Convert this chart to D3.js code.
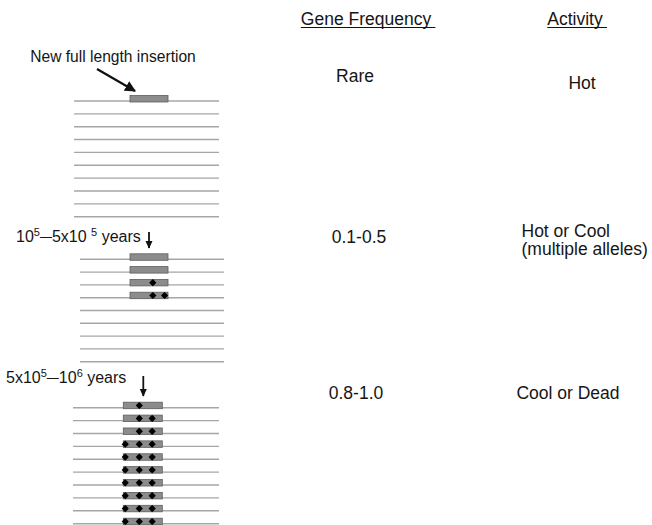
<!DOCTYPE html>
<html><head><meta charset="utf-8">
<script src="https://cdn.jsdelivr.net/npm/d3@7"></script>
<style>body{margin:0;background:#fff}svg{display:block}text{font-family:"Liberation Sans",Arial,sans-serif;fill:#151515}</style>
</head><body><svg id="c" width="652" height="525"></svg>
<script>
// ---- data ----
const stages = ["New full length insertion", "10^5-5x10 ^5 years", "5x10^5-10^6 years"];
const chromosomeCounts = [10, 9, 10];           // homologous chromosomes drawn per stage
const insertionMutations = [                     // per carrying chromosome: mutation positions along the element (0-1)
  [[]],
  [[], [], [0.6], [0.6, 0.91]],
  [[0.41], [0.41, 0.74], [0.41, 0.74], [0.05, 0.41, 0.74], [0.05, 0.41, 0.74], [0.05, 0.41, 0.74],
   [0.05, 0.41, 0.74], [0.05, 0.41, 0.74], [0.05, 0.41, 0.74], [0.05, 0.41, 0.74]]
];
const geneFrequency = ["Rare", "0.1-0.5", "0.8-1.0"];
const activity = [["Hot"], ["Hot or Cool", "(multiple alleles)"], ["Cool or Dead"]];
const columnHeaders = ["Gene Frequency", "Activity"];

// ---- layout ----
const panels = [
  {lx: [74, 219], ly: [101, 216.7], bx: [130, 168]},
  {lx: [80, 224], ly: [259.3, 361.7], bx: [130, 168]},
  {lx: [73, 219], ly: [407.7, 523.7], bx: [123.3, 162.3]}
];
const svg = d3.select("#c");
const defs = svg.append("defs");
defs.append("marker").attr("id","ah").attr("viewBox","0 0 10 10").attr("refX",9).attr("refY",5)
  .attr("markerWidth",5).attr("markerHeight",5).attr("orient","auto")
  .append("path").attr("d","M0,0 L10,5 L0,10 z").attr("fill","#111");
defs.append("marker").attr("id","ah2").attr("viewBox","0 0 10 10").attr("refX",9).attr("refY",5)
  .attr("markerWidth",4.5).attr("markerHeight",5).attr("orient","auto")
  .append("path").attr("d","M0,0.5 L10,5 L0,9.5 z").attr("fill","#111");

const dotSymbol = {draw(ctx, size) { const r = Math.sqrt(size / 2);
  ctx.moveTo(0, -r); ctx.lineTo(r, 0); ctx.lineTo(0, r); ctx.lineTo(-r, 0); ctx.closePath(); }};

panels.forEach((p, i) => {
  const n = chromosomeCounts[i];
  const y = d3.scaleLinear().domain([0, n - 1]).range(p.ly);
  const bx = d3.scaleLinear().domain([0, 1]).range(p.bx);
  const g = svg.append("g");
  g.selectAll("line.chr").data(d3.range(n)).join("line").attr("class","chr")
    .attr("x1", p.lx[0]).attr("x2", p.lx[1]).attr("y1", d => y(d)).attr("y2", d => y(d))
    .attr("stroke", "#a6a6a6").attr("stroke-width", 1.4);
  const rg = g.selectAll("g.ins").data(insertionMutations[i]).join("g").attr("class","ins");
  rg.append("rect").attr("x", bx(0)).attr("width", bx(1) - bx(0))
    .attr("y", (d, j) => y(j) - 5.5).attr("height", 6.5)
    .attr("fill", "#8c8c8c").attr("stroke", "#5e5e5e").attr("stroke-width", 0.8);
  rg.each(function(d, j) {
    const dg = d3.select(this).selectAll("g.m").data(d).join("g").attr("class","m")
      .attr("transform", m => `translate(${bx(m)},${y(j) - 2.2})`);
    dg.append("path").attr("d", d3.symbol(dotSymbol, 26)).attr("fill", "#000");
    dg.append("circle").attr("r", 2.3).attr("fill", "#000");
  });
});

// stage labels & arrows
svg.append("text").attr("x", 113).attr("y", 62).attr("text-anchor","middle")
  .style("font-size","15.6px").text(stages[0]);
svg.append("line").attr("x1", 97).attr("y1", 69).attr("x2", 135).attr("y2", 91)
  .attr("stroke","#111").attr("stroke-width",2.2).attr("marker-end","url(#ah)");

// label strings use "^n" for a superscript digit and "-" for the long dash
function stageLabel(x, yb, label) {
  const t = svg.append("text").attr("x", x).attr("y", yb).style("font-size","16px");
  const tokens = label.match(/\^\d|-|[^\^-]+/g);
  let shift = 0; // current vertical offset from baseline
  tokens.forEach(tok => {
    let target = 0, size = null, txt = tok;
    if (tok[0] === "^") { target = -6; size = "11px"; txt = tok.slice(1); }
    else if (tok === "-") { target = -1; size = "12px"; txt = "\u2014"; }
    const ts = t.append("tspan").attr("dy", target - shift).text(txt);
    if (size) ts.style("font-size", size);
    shift = target;
  });
}
stageLabel(16, 242, stages[1]);
stageLabel(6, 383, stages[2]);
svg.append("line").attr("x1",149).attr("y1",232).attr("x2",149).attr("y2",248)
  .attr("stroke","#111").attr("stroke-width",1.8).attr("marker-end","url(#ah2)");
svg.append("line").attr("x1",143.3).attr("y1",376).attr("x2",143.3).attr("y2",396)
  .attr("stroke","#111").attr("stroke-width",1.8).attr("marker-end","url(#ah2)");

// column headers
const hx = [366, 575];
columnHeaders.forEach((h, i) => {
  const t = svg.append("text").attr("x", hx[i]).attr("y", 25).attr("text-anchor","middle")
    .style("font-size","17.5px").text(h);
  const bb = t.node().getBBox();
  svg.append("line").attr("x1", bb.x).attr("x2", bb.x + bb.width + 4).attr("y1", 27.5).attr("y2", 27.5)
    .attr("stroke","#111").attr("stroke-width",1.2);
});

const gfPos = [[355, 82], [359, 242.5], [356, 398.5]];
geneFrequency.forEach((v, i) => svg.append("text").attr("x", gfPos[i][0]).attr("y", gfPos[i][1])
  .attr("text-anchor","middle").style("font-size","17.5px").text(v));

const acPos = [[582, 88.5, "middle"], [521.5, 236.5, "start"], [568, 398.5, "middle"]];
activity.forEach((lines, i) => {
  const t = svg.append("text").attr("x", acPos[i][0]).attr("y", acPos[i][1])
    .attr("text-anchor", acPos[i][2]).style("font-size","17.5px");
  lines.forEach((l, k) => t.append("tspan").attr("x", acPos[i][0]).attr("dy", k ? 18.5 : 0).text(l));
});
</script></body></html>
